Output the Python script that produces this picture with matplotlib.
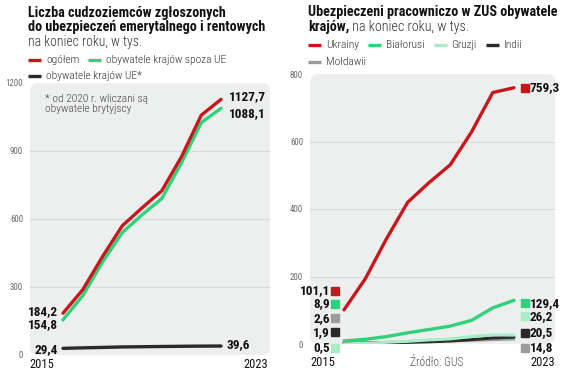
import matplotlib
matplotlib.use("Agg")
import matplotlib.pyplot as plt
from matplotlib import font_manager
from matplotlib.patches import FancyBboxPatch
from matplotlib.lines import Line2D
from matplotlib.transforms import offset_copy

# --- data (tys. osob, koniec roku) ---
years = [2015, 2016, 2017, 2018, 2019, 2020, 2021, 2022, 2023]

total = [184.2, 288, 434, 570, 649, 724, 875, 1058, 1127.7]
non_eu = [154.8, 262, 410, 540, 618, 690, 848, 1025, 1088.1]
eu = [29.4, 31.5, 33.5, 35.5, 36.5, 37.5, 38.5, 39.2, 39.6]

ukraine = [101.1, 193, 312, 420, 478, 531, 628, 745, 759.3]
belarus = [8.9, 14, 22, 33, 43, 53, 70, 107, 129.4]
georgia = [0.5, 2, 5, 8, 12, 15, 22, 27, 26.2]
india = [1.9, 2.5, 3.5, 5, 6.5, 9, 13, 18, 20.5]
moldova = [2.6, 3.5, 4.5, 6, 8, 9, 11, 13, 14.8]

left_ticks = [0, 300, 600, 900, 1200]
right_ticks = [0, 200, 400, 600, 800]

RED = '#c8161d'
GREEN = '#2fd27a'
LGREEN = '#a8ecc8'
BLACK = '#2a2a2a'
GRAY = '#9b9b9b'
PANEL = '#edefee'

W, H = 564, 378

names = {f.name for f in font_manager.fontManager.ttflist}
NARROW = next(n for n in ['Roboto Condensed', 'Barlow Semi Condensed', 'Archivo Narrow',
                          'DejaVu Sans'] if n in names)


def fx(x):
    return x / W


def fy(y):
    return 1 - y / H


def panel(ax):
    ax.patch.set_visible(False)
    p = FancyBboxPatch((0, 0), 1, 1, boxstyle="round,pad=0,rounding_size=0.03",
                       transform=ax.transAxes, fc=PANEL, ec='none', zorder=-2,
                       clip_on=False)
    ax.add_patch(p)
    for s in ax.spines.values():
        s.set_visible(False)
    ax.set_xticks([])
    ax.yaxis.grid(True, color='#d8dad9', lw=0.8)
    ax.set_axisbelow(True)
    ax.tick_params(axis='y', length=0, pad=5, labelsize=6.3, labelcolor='#666666')
    for lab in ax.get_yticklabels():
        lab.set_family(NARROW)
    gl = ax.get_ygridlines()
    gl[0].set_visible(False)
    gl[-1].set_visible(False)


def legend_row(fig, renderer, x, y, items):
    for label, color in items:
        fig.add_artist(Line2D([fx(x), fx(x + 13)], [fy(y), fy(y)], color=color,
                              lw=2.4, solid_capstyle='butt'))
        t = fig.text(fx(x + 18), fy(y), label, fontsize=8.2, family=NARROW,
                     fontweight='light', color='#333333', va='center', ha='left')
        bb = t.get_window_extent(renderer)
        x = bb.x1 + 9


def num(ax, x, y, label, dx, dy, ha='left'):
    ax.annotate(label, (x, y), xytext=(dx, dy), textcoords='offset pixels',
                ha=ha, va='center', fontsize=9.5, fontweight='bold', family=NARROW,
                color='#111111', annotation_clip=False)


def square(ax, fig, x, y, dx, dy, color):
    tr = offset_copy(ax.transData, fig, x=dx, y=dy, units='dots')
    ax.plot([x], [y], marker='s', ms=5.5, color=color, transform=tr,
            clip_on=False, ls='none')


fig = plt.figure(figsize=(5.64, 3.78), dpi=100)
renderer = fig.canvas.get_renderer()

# ---------------- left chart ----------------
ax1 = fig.add_axes([fx(30), fy(355), fx(240), 272 / H])
ax1.set_xlim(2013.33, 2025.48)
ax1.set_ylim(0, 1200)
ax1.set_yticks(left_ticks)
panel(ax1)

ax1.plot(years, eu, color=BLACK, lw=2.4, solid_capstyle='round')
ax1.plot(years, non_eu, color=GREEN, lw=2.4, solid_capstyle='round')
ax1.plot(years, total, color=RED, lw=2.4, solid_capstyle='round')

num(ax1, years[0], total[0], '184,2', -5, 2, 'right')
num(ax1, years[0], non_eu[0], '154,8', -5, -5, 'right')
num(ax1, years[0], eu[0], '29,4', -5, -1, 'right')
num(ax1, years[-1], total[-1], '1127,7', 8, 3, 'left')
num(ax1, years[-1], non_eu[-1], '1088,1', 8, -5, 'left')
num(ax1, years[-1], eu[-1], '39,6', 6, 1, 'left')

ax1.text(0, 0, '2015', transform=offset_copy(ax1.transAxes, fig, x=-1, y=-9, units='dots'),
         ha='left', va='center', fontsize=9, family=NARROW, color='#111111')
ax1.text(1, 0, '2023', transform=offset_copy(ax1.transAxes, fig, x=-2, y=-9, units='dots'),
         ha='right', va='center', fontsize=9, family=NARROW, color='#111111')

fig.text(fx(45), fy(104), '* od 2020 r. wliczani są\nobywatele brytyjscy', fontsize=8.2,
         family=NARROW, fontweight='light', color='#444444', va='center', ha='left',
         linespacing=0.95)

fig.text(fx(28), fy(20), 'Liczba cudzoziemców zgłoszonych\ndo ubezpieczeń emerytalnego i rentowych',
         fontsize=10.2, fontweight='bold', family=NARROW, color='#111111',
         va='center', ha='left', linespacing=1.05)
fig.text(fx(28), fy(42), 'na koniec roku, w tys.', fontsize=9.8, family=NARROW,
         fontweight='light', color='#333333', va='center', ha='left')

legend_row(fig, renderer, 28, 60, [('ogółem', RED), ('obywatele krajów spoza UE', GREEN)])
legend_row(fig, renderer, 28, 76, [('obywatele krajów UE*', BLACK)])

# ---------------- right chart ----------------
ax2 = fig.add_axes([fx(310), fy(344), fx(245), 270 / H])
ax2.set_xlim(2013.4, 2024.93)
ax2.set_ylim(0, 800)
ax2.set_yticks(right_ticks)
panel(ax2)

ax2.plot(years, moldova, color=GRAY, lw=2.2, solid_capstyle='round')
ax2.plot(years, india, color=BLACK, lw=2.2, solid_capstyle='round')
ax2.plot(years, georgia, color=LGREEN, lw=2.2, solid_capstyle='round')
ax2.plot(years, belarus, color=GREEN, lw=2.4, solid_capstyle='round')
ax2.plot(years, ukraine, color=RED, lw=2.4, solid_capstyle='round')

start = [(ukraine, '101,1', RED, 19), (belarus, '8,9', GREEN, 37),
         (moldova, '2,6', GRAY, 25), (india, '1,9', BLACK, 11),
         (georgia, '0,5', LGREEN, -4)]
for series, label, color, dy in start:
    square(ax2, fig, years[0], series[0], -9, dy, color)
    num(ax2, years[0], series[0], label, -14, dy, 'right')

end = [(ukraine, '759,3', RED, 0), (belarus, '129,4', GREEN, -3),
       (georgia, '26,2', LGREEN, 19), (india, '20,5', BLACK, 4),
       (moldova, '14,8', GRAY, -9)]
for series, label, color, dy in end:
    square(ax2, fig, years[-1], series[-1], 11, dy, color)
    num(ax2, years[-1], series[-1], label, 16, dy, 'left')

ax2.text(0, 0, '2015', transform=offset_copy(ax2.transAxes, fig, x=0, y=-19, units='dots'),
         ha='left', va='center', fontsize=9, family=NARROW, color='#111111')
ax2.text(1, 0, '2023', transform=offset_copy(ax2.transAxes, fig, x=0, y=-19, units='dots'),
         ha='right', va='center', fontsize=9, family=NARROW, color='#111111')
fig.text(fx(437), fy(363), 'Źródło: GUS', fontsize=8.3, family=NARROW, fontweight='light',
         color='#555555', ha='center', va='center')

fig.text(fx(308), fy(12), 'Ubezpieczeni pracowniczo w ZUS obywatele', fontsize=10.2,
         fontweight='bold', family=NARROW, color='#111111', va='center', ha='left')
kt = fig.text(fx(308), fy(27), 'krajów,', fontsize=10.2, fontweight='bold', family=NARROW,
              color='#111111', va='center', ha='left')
ax2.annotate(' na koniec roku, w tys.', xy=(1, 0), xycoords=kt, xytext=(0, 0),
             textcoords='offset points', ha='left', va='bottom', fontsize=10.2,
             family=NARROW, fontweight='light', color='#333333', annotation_clip=False)

legend_row(fig, renderer, 308, 45, [('Ukrainy', RED), ('Białorusi', GREEN),
                                    ('Gruzji', LGREEN), ('Indii', BLACK)])
legend_row(fig, renderer, 308, 62, [('Mołdawii', GRAY)])

fig.savefig('out.png', dpi=100)
